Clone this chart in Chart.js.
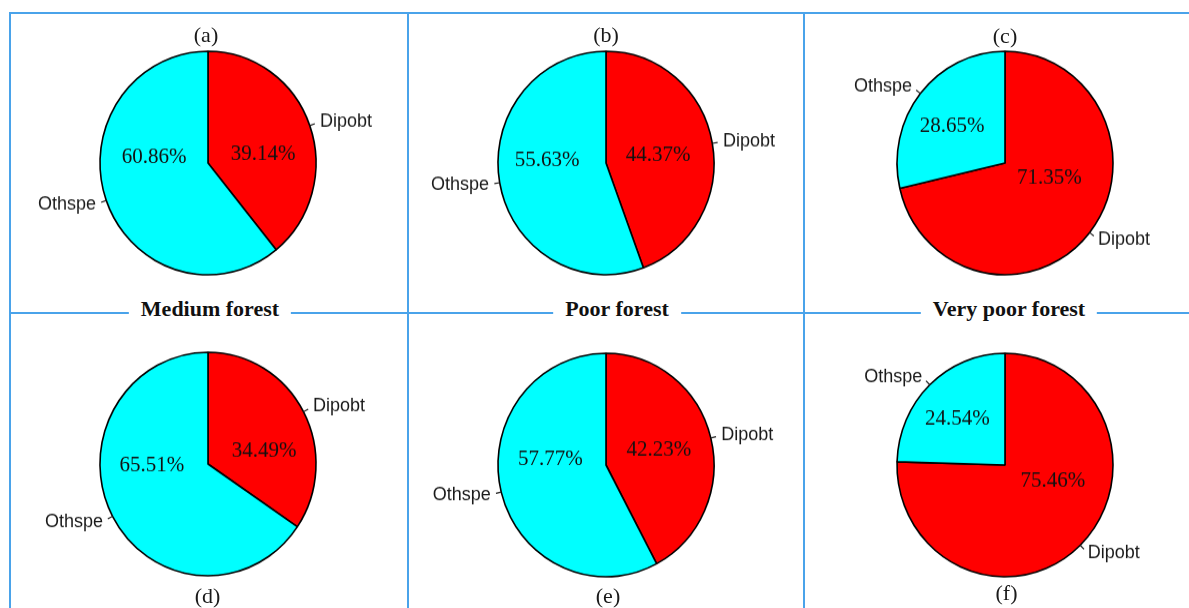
<!DOCTYPE html>
<html>
<head>
<meta charset="utf-8">
<script src="https://cdn.jsdelivr.net/npm/chart.js@4.4.1/dist/chart.umd.min.js"></script>
<style>
  html, body { margin: 0; padding: 0; background: #fff; }
  body { width: 1189px; height: 608px; position: relative; overflow: hidden; }
  .rule { position: absolute; background: #4aa3ea; }
  .pane { position: absolute; transform: scaleY(1.035); transform-origin: 50% 50%; }
  .tag {
    position: absolute; transform: translate(-50%, -50%);
    font-family: "Liberation Serif", "Times New Roman", serif; font-size: 22px;
    line-height: 1; color: #1a1a1a; white-space: nowrap;
  }
  .group {
    position: absolute; transform: translate(-50%, -50%);
    font-family: "Liberation Serif", "Times New Roman", serif; font-size: 22px; font-weight: bold;
    line-height: 1; color: #111; background: #fff; padding: 2px 12px; white-space: nowrap;
  }
</style>
</head>
<body>
<div class="rule" style="left:9px; top:12px; width:1180px; height:2px;"></div>
<div class="rule" style="left:9px; top:312px; width:1180px; height:2px;"></div>
<div class="rule" style="left:9px; top:12px; width:2px; height:596px;"></div>
<div class="rule" style="left:407px; top:12px; width:2px; height:596px;"></div>
<div class="rule" style="left:803px; top:12px; width:2px; height:596px;"></div>
<script>
// Species groups and their share (%) of each forest plot
const categories = ['Dipobt', 'Othspe'];
const panelTags = ['(a)', '(b)', '(c)', '(d)', '(e)', '(f)'];
const forestTypes = ['Medium forest', 'Poor forest', 'Very poor forest'];
const dipobtShare = [39.14, 44.37, 71.35, 34.49, 42.23, 75.46];
const othspeShare = [60.86, 55.63, 28.65, 65.51, 57.77, 24.54];

// Page layout: pie centres, tag positions, and the percentage text nudges
// (in units of the pie radius, relative to the pie centre).
const pieCentres = [[207.5, 162.5], [606, 163], [1004.5, 162.5], [208, 464], [606, 465], [1004.5, 464.5]];
const tagSpots = [[206, 35], [606, 35], [1005, 36], [207.5, 596], [608, 596], [1006.5, 593]];
const groupSpots = [[210, 309], [617, 309], [1009, 309]];
const pctNudges = [
  [[0.51, -0.08], [-0.50, -0.053]],
  [[0.482, -0.071], [-0.546, -0.027]],
  [[0.412, 0.137], [-0.49, -0.333]],
  [[0.519, -0.12], [-0.519, 0.013]],
  [[0.49, -0.134], [-0.514, -0.053]],
  [[0.444, 0.146], [-0.44, -0.414]]
];

const PIE_R = 108;
const CANVAS_W = 380, CANVAS_H = 280;

// Slice labels: value text inside, name with a short leader outside
const sliceLabels = {
  id: 'sliceLabels',
  afterDatasetsDraw(chart, args, opts) {
    const ctx = chart.ctx;
    const meta = chart.getDatasetMeta(0);
    const values = chart.data.datasets[0].data;
    ctx.save();
    meta.data.forEach((arc, i) => {
      const { x, y, startAngle, endAngle, outerRadius } = arc.getProps(['x', 'y', 'startAngle', 'endAngle', 'outerRadius'], true);
      const mid = (startAngle + endAngle) / 2;
      const cx = Math.cos(mid), sy = Math.sin(mid);
      // leader tick from the rim outwards
      ctx.strokeStyle = '#222';
      ctx.lineWidth = 1.2;
      ctx.beginPath();
      ctx.moveTo(x + cx * outerRadius, y + sy * outerRadius);
      ctx.lineTo(x + cx * outerRadius * 1.05, y + sy * outerRadius * 1.05);
      ctx.stroke();
      // category name
      ctx.fillStyle = '#1a1a1a';
      ctx.font = '18px "Liberation Sans", Arial, sans-serif';
      ctx.textBaseline = 'middle';
      ctx.textAlign = cx < 0 ? 'right' : 'left';
      ctx.fillText(chart.data.labels[i], x + cx * outerRadius * 1.1, y + sy * outerRadius * 1.1);
      // percentage
      const nudge = opts.nudges[i];
      ctx.font = '21px "Liberation Serif", "Times New Roman", serif';
      ctx.textAlign = 'center';
      ctx.fillStyle = '#111';
      ctx.fillText(values[i].toFixed(2) + '%', x + nudge[0] * outerRadius, y + nudge[1] * outerRadius);
    });
    ctx.restore();
  }
};

dipobtShare.forEach((d, k) => {
  const [px, py] = pieCentres[k];
  const wrap = document.createElement('div');
  wrap.className = 'pane';
  wrap.style.left = (px - CANVAS_W / 2) + 'px';
  wrap.style.top = (py - CANVAS_H / 2) + 'px';
  wrap.style.width = CANVAS_W + 'px';
  wrap.style.height = CANVAS_H + 'px';
  const cv = document.createElement('canvas');
  cv.width = CANVAS_W; cv.height = CANVAS_H;
  cv.style.width = CANVAS_W + 'px'; cv.style.height = CANVAS_H + 'px';
  cv.style.display = 'block';
  wrap.appendChild(cv);
  document.body.appendChild(wrap);

  new Chart(cv, {
    type: 'pie',
    data: {
      labels: categories,
      datasets: [{
        data: [d, othspeShare[k]],
        backgroundColor: ['#ff0000', '#00ffff'],
        borderColor: '#000000',
        borderWidth: 1.6,
        radius: PIE_R
      }]
    },
    options: {
      responsive: false,
      animation: false,
      devicePixelRatio: 1,
      layout: { padding: 0 },
      plugins: {
        legend: { display: false },
        tooltip: { enabled: false },
        sliceLabels: { nudges: pctNudges[k] }
      }
    },
    plugins: [sliceLabels]
  });

  const tag = document.createElement('div');
  tag.className = 'tag';
  tag.textContent = panelTags[k];
  tag.style.left = tagSpots[k][0] + 'px';
  tag.style.top = tagSpots[k][1] + 'px';
  document.body.appendChild(tag);
});

forestTypes.forEach((name, j) => {
  const g = document.createElement('div');
  g.className = 'group';
  g.textContent = name;
  g.style.left = groupSpots[j][0] + 'px';
  g.style.top = groupSpots[j][1] + 'px';
  document.body.appendChild(g);
});
</script>
</body>
</html>
